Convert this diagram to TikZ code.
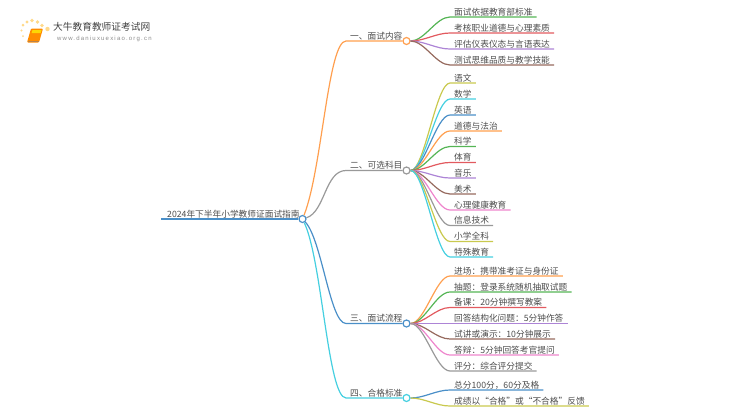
\documentclass[tikz,border=0pt]{standalone}
\usepackage{fontspec}
\usepackage{xcolor}
\setmainfont{Noto Sans CJK SC}
\newfontfamily\urlfont[LetterSpace=20]{Liberation Sans}

\definecolor{orangeline}{HTML}{FF9F4F}
\definecolor{grayline}{HTML}{999999}
\definecolor{blueline}{HTML}{4A8FC8}
\definecolor{cyanline}{HTML}{45CFE0}
\definecolor{greenline}{HTML}{55B555}
\definecolor{redline}{HTML}{E25A5F}
\definecolor{purpleline}{HTML}{AD84D6}
\definecolor{brownline}{HTML}{966A5E}
\definecolor{pinkline}{HTML}{EE85CC}
\definecolor{oliveline}{HTML}{C9C94E}
\definecolor{rayfill}{HTML}{FFD98A}

\begin{document}
\begin{tikzpicture}[
    x=1pt, y=-1pt,
    label/.style={
        anchor=south west,
        inner xsep=4pt,
        inner ysep=0.7pt,
        text height=8pt,
        text depth=1pt,
        text=black!70,
        font=\fontsize{8.7pt}{10pt}\selectfont
    },
    dot/.style={
        circle,
        minimum size=7pt,
        inner sep=0pt,
        line width=1.2pt,
        fill=white
    },
    link/.style={line width=1.2pt, draw=#1},
    sway/.style={out=0, in=180, distance=14pt}
]

% Logo
\fill[rayfill] (23,36) circle (1);
\fill[rayfill] (21.5,30.5) circle (1.2);
\fill[rayfill] (23,25) circle (1.5);
\fill[rayfill] (27,22) circle (1.7);
\fill[rayfill] (32,20.5) circle (1.9);
\fill[rayfill] (37.5,22) circle (1.9);
\fill[rayfill] (42,25.5) circle (1.9);
\fill[rayfill] (47.5,29) circle (2.2);
\fill[orange!90!yellow, rounded corners=1pt] (31,28.5) -- (43,28.5) -- (39,42.5) -- (27,42.5) -- cycle;
\fill[yellow!75!orange] (32.5,30) -- (41.5,30) -- (40.6,33) -- (31.6,33) -- cycle;
\draw[orange!60!black!70, line width=.5pt] (28,41) -- (39,41);
\node (logotext) [anchor=west, inner sep=0pt, text=black!75, font=\fontsize{9.7pt}{11pt}\selectfont] at (53,27) {大牛教育教师证考试网};
\node (logourl) [anchor=west, inner sep=0pt, text=black!45, font=\urlfont\fontsize{6pt}{7pt}\selectfont] at (57,39) {www.daniuxuexiao.org.cn};

% Junction dots
\node (root) [dot, draw=blueline] at (302.5,219) {};
\node (d1) [dot, draw=orangeline] at (406.5,41) {};
\node (d2) [dot, draw=grayline] at (406.5,170.5) {};
\node (d3) [dot, draw=blueline] at (406.5,323.5) {};
\node (d4) [dot, draw=cyanline] at (406.5,398) {};

% Title and branches
\node (title) [label, inner xsep=6pt] at (161,219) {2024年下半年小学教师证面试指南};
\node (b1) [label] at (346,41) {一、面试内容};
\node (b2) [label] at (346,170.5) {二、可选科目};
\node (b3) [label] at (346,323.5) {三、面试流程};
\node (b4) [label] at (346,398) {四、合格标准};

% Leaves
\node (a1) [label] at (450,17) {面试依据教育部标准};
\node (a2) [label] at (450,33) {考核职业道德与心理素质};
\node (a3) [label] at (450,49) {评估仪表仪态与言语表达};
\node (a4) [label] at (450,65) {测试思维品质与教学技能};

\node (s1) [label] at (450,83) {语文};
\node (s2) [label] at (450,99) {数学};
\node (s3) [label] at (450,115) {英语};
\node (s4) [label] at (450,131) {道德与法治};
\node (s5) [label] at (450,146.5) {科学};
\node (s6) [label] at (450,162.5) {体育};
\node (s7) [label] at (450,178) {音乐};
\node (s8) [label] at (450,194) {美术};
\node (s9) [label] at (450,210) {心理健康教育};
\node (s10) [label] at (450,225.5) {信息技术};
\node (s11) [label] at (450,241.5) {小学全科};
\node (s12) [label] at (450,257) {特殊教育};

\node (p1) [label] at (450,276) {进场：携带准考证与身份证};
\node (p2) [label] at (450,292) {抽题：登录系统随机抽取试题};
\node (p3) [label] at (450,307.5) {备课：20分钟撰写教案};
\node (p4) [label] at (450,323.5) {回答结构化问题：5分钟作答};
\node (p5) [label] at (450,339) {试讲或演示：10分钟展示};
\node (p6) [label] at (450,355) {答辩：5分钟回答考官提问};
\node (p7) [label] at (450,371) {评分：综合评分提交};

\node (g1) [label] at (450,390) {总分100分，60分及格};
\node (g2) [label] at (450,406) {成绩以“合格”或“不合格”反馈};

% Main lines
\draw [link=blueline, line width=1.5pt] (title.south west) -- (root);
\draw [link=orangeline] (root) .. controls (322,170) and (328,41) .. (b1.south west) -- (d1);
\draw [link=grayline] (root) .. controls (325,212) and (325,170.5) .. (b2.south west) -- (d2);
\draw [link=blueline] (root) .. controls (322,240) and (330,323.5) .. (b3.south west) -- (d3);
\draw [link=cyanline] (root) .. controls (322,260) and (328,398) .. (b4.south west) -- (d4);

% Leaf lines
\draw [link=greenline] (d1) to[sway] (a1.south west) -- (a1.south east);
\draw [link=redline] (d1) to[sway] (a2.south west) -- (a2.south east);
\draw [link=purpleline] (d1) to[sway] (a3.south west) -- (a3.south east);
\draw [link=brownline] (d1) to[sway] (a4.south west) -- (a4.south east);

\draw [link=oliveline] (d2) to[sway] (s1.south west) -- (s1.south east);
\draw [link=cyanline] (d2) to[sway] (s2.south west) -- (s2.south east);
\draw [link=blueline] (d2) to[sway] (s3.south west) -- (s3.south east);
\draw [link=orangeline] (d2) to[sway] (s4.south west) -- (s4.south east);
\draw [link=greenline] (d2) to[sway] (s5.south west) -- (s5.south east);
\draw [link=redline] (d2) to[sway] (s6.south west) -- (s6.south east);
\draw [link=purpleline] (d2) to[sway] (s7.south west) -- (s7.south east);
\draw [link=brownline] (d2) to[sway] (s8.south west) -- (s8.south east);
\draw [link=pinkline] (d2) to[sway] (s9.south west) -- (s9.south east);
\draw [link=grayline] (d2) to[sway] (s10.south west) -- (s10.south east);
\draw [link=oliveline] (d2) to[sway] (s11.south west) -- (s11.south east);
\draw [link=cyanline] (d2) to[sway] (s12.south west) -- (s12.south east);

\draw [link=orangeline] (d3) to[sway] (p1.south west) -- (p1.south east);
\draw [link=greenline] (d3) to[sway] (p2.south west) -- (p2.south east);
\draw [link=redline] (d3) to[sway] (p3.south west) -- (p3.south east);
\draw [link=purpleline] (d3) to[sway] (p4.south west) -- (p4.south east);
\draw [link=brownline] (d3) to[sway] (p5.south west) -- (p5.south east);
\draw [link=pinkline] (d3) to[sway] (p6.south west) -- (p6.south east);
\draw [link=grayline] (d3) to[sway] (p7.south west) -- (p7.south east);

\draw [link=blueline] (d4) to[sway] (g1.south west) -- (g1.south east);
\draw [link=oliveline] (d4) to[sway] (g2.south west) -- (g2.south east);

\useasboundingbox (0,0) rectangle (750,410);
\end{tikzpicture}
\end{document}
